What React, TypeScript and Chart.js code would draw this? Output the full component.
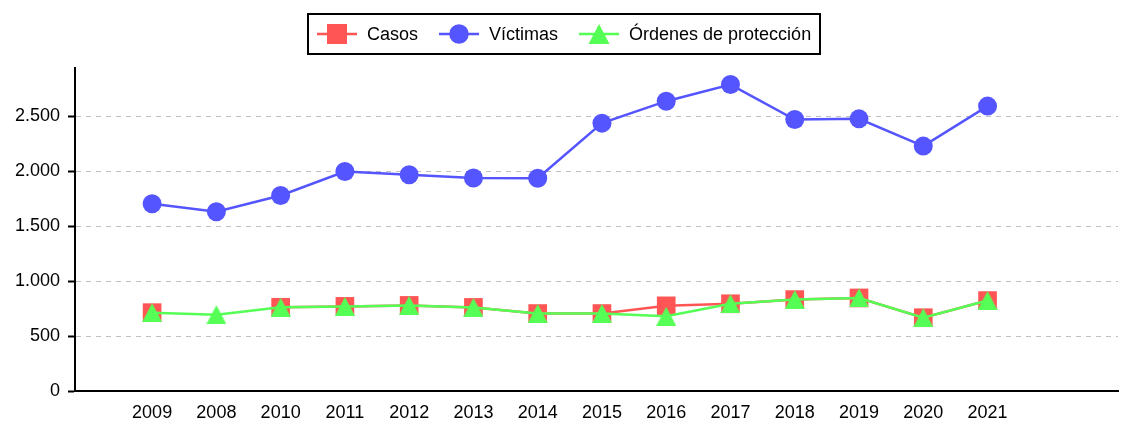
import React, { useEffect, useRef } from 'react';
import { Chart, registerables } from 'chart.js';

Chart.register(...registerables);

// ---- Data ----
const years = ['2009', '2008', '2010', '2011', '2012', '2013', '2014', '2015', '2016', '2017', '2018', '2019', '2020', '2021'];
const casos = [713, null, 762, 770, 779, 761, 705, 705, 775, 794, 832, 847, 667, 823];
const victimas = [1705, 1632, 1780, 1998, 1968, 1938, 1936, 2438, 2638, 2789, 2471, 2477, 2229, 2593];
const ordenes = [713, 695, 762, 770, 779, 761, 705, 705, 680, 794, 832, 847, 667, 823];

const seriesNames = ['Casos', 'Víctimas', 'Órdenes de protección'];
const seriesColors = ['#ff5555', '#5555ff', '#55ff55'];
const yTickValues = [0, 500, 1000, 1500, 2000, 2500];
const yMax = 2940;

const FONT = '"Liberation Sans", Arial, Helvetica, sans-serif';

function makeTriangle(color: string, w: number, h: number) {
  const c = document.createElement('canvas');
  c.width = w;
  c.height = h;
  const ctx = c.getContext('2d')!;
  ctx.fillStyle = color;
  ctx.beginPath();
  ctx.moveTo(w / 2, 0);
  ctx.lineTo(w, h);
  ctx.lineTo(0, h);
  ctx.closePath();
  ctx.fill();
  return c;
}

function fmtThousands(v: number) {
  return String(Math.round(v)).replace(/\B(?=(\d{3})+(?!\d))/g, '.');
}

function drawLegendMarker(ctx: CanvasRenderingContext2D, i: number, x: number, y: number) {
  const color = seriesColors[i];
  ctx.fillStyle = color;
  if (i === 0) {
    ctx.fillRect(x - 10, y - 10, 20, 20);
  } else if (i === 1) {
    ctx.beginPath();
    ctx.arc(x, y, 9.75, 0, Math.PI * 2);
    ctx.fill();
  } else {
    ctx.beginPath();
    ctx.moveTo(x, y - 10);
    ctx.lineTo(x + 10.5, y + 10);
    ctx.lineTo(x - 10.5, y + 10);
    ctx.closePath();
    ctx.fill();
  }
}

const boxLegend = {
  id: 'boxLegend',
  afterDraw(chart: any) {
    const ctx: CanvasRenderingContext2D = chart.ctx;
    ctx.save();
    ctx.font = `18px ${FONT}`;
    const iconW = 40, gap = 10, itemGap = 21, pad = 9;
    const widths = seriesNames.map((n) => ctx.measureText(n).width);
    const total = widths.reduce((a, w) => a + iconW + gap + w, 0) + itemGap * (seriesNames.length - 1) + pad * 2;
    const left = Math.round((chart.width - total) / 2) + 4;
    const top = 14, h = 40, cy = top + h / 2;
    ctx.lineWidth = 2;
    ctx.strokeStyle = '#000';
    ctx.strokeRect(left, top, Math.round(total), h);
    let x = left + pad;
    seriesNames.forEach((name, i) => {
      ctx.strokeStyle = seriesColors[i];
      ctx.lineWidth = 2.5;
      ctx.beginPath();
      ctx.moveTo(x, cy);
      ctx.lineTo(x + iconW, cy);
      ctx.stroke();
      drawLegendMarker(ctx, i, x + iconW / 2, cy);
      ctx.fillStyle = '#000';
      ctx.textBaseline = 'middle';
      ctx.textAlign = 'left';
      ctx.fillText(name, x + iconW + gap, cy + 1);
      x += iconW + gap + widths[i] + itemGap;
    });
    ctx.restore();
  },
};

export default function App() {
  const ref = useRef<HTMLCanvasElement | null>(null);

  useEffect(() => {
    if (!ref.current) return;
    const tri = makeTriangle(seriesColors[2], 20, 19);
    const toPts = (arr: (number | null)[]) => arr.map((v, i) => ({ x: i, y: v }));

    const chart = new Chart(ref.current, {
      type: 'line',
      data: {
        datasets: [
          {
            label: seriesNames[0],
            data: toPts(casos) as any,
            borderColor: seriesColors[0],
            backgroundColor: seriesColors[0],
            borderWidth: 2.5,
            pointStyle: 'rect',
            pointRadius: 13.2,
            pointBorderWidth: 0,
            spanGaps: false,
            order: 2,
          },
          {
            label: seriesNames[1],
            data: toPts(victimas) as any,
            borderColor: seriesColors[1],
            backgroundColor: seriesColors[1],
            borderWidth: 2.5,
            pointStyle: 'circle',
            pointRadius: 9.5,
            pointBorderWidth: 0,
            order: 1,
          },
          {
            label: seriesNames[2],
            data: toPts(ordenes) as any,
            borderColor: seriesColors[2],
            backgroundColor: seriesColors[2],
            borderWidth: 2.5,
            pointStyle: tri as any,
            pointRadius: 10,
            pointBorderWidth: 0,
            order: 0,
          },
        ],
      },
      options: {
        animation: false,
        responsive: false,
        events: [],
        layout: { autoPadding: false, padding: { top: 68, left: 0, right: 3, bottom: 0 } },
        plugins: {
          legend: { display: false },
          tooltip: { enabled: false },
        },
        scales: {
          x: {
            type: 'linear',
            min: -1.2,
            max: 15.03,
            afterBuildTicks: (s: any) => {
              s.ticks = years.map((_, i) => ({ value: i }));
            },
            ticks: {
              callback: (v: any) => years[v as number] ?? '',
              font: { family: FONT, size: 18 },
              color: '#000',
              padding: 11,
              maxRotation: 0,
              autoSkip: false,
            },
            grid: { display: false, drawTicks: false },
            border: { display: true, color: '#000', width: 2 },
            afterFit: (s: any) => {
              s.height = 31;
            },
          },
          y: {
            type: 'linear',
            min: 0,
            max: yMax,
            afterBuildTicks: (s: any) => {
              s.ticks = yTickValues.map((v) => ({ value: v }));
            },
            ticks: {
              autoSkip: false,
              callback: (v: any) => fmtThousands(Number(v)),
              font: { family: FONT, size: 18 },
              color: '#000',
              padding: 8,
            },
            grid: {
              color: '#c0c0c0',
              lineWidth: 1,
              tickColor: '#000',
              tickLength: 7,
              tickWidth: 2,
              tickBorderDash: [],
            } as any,
            border: { color: '#000', width: 2, dash: [5, 5] },
            afterFit: (s: any) => {
              s.width = 75;
            },
          },
        },
      },
      plugins: [boxLegend],
    } as any);

    return () => chart.destroy();
  }, []);

  return (
    <div style={{ position: 'fixed', left: 0, top: 0, width: 1121, height: 422, background: '#fff' }}>
      <canvas ref={ref} width={1121} height={422} style={{ display: 'block' }} />
    </div>
  );
}
